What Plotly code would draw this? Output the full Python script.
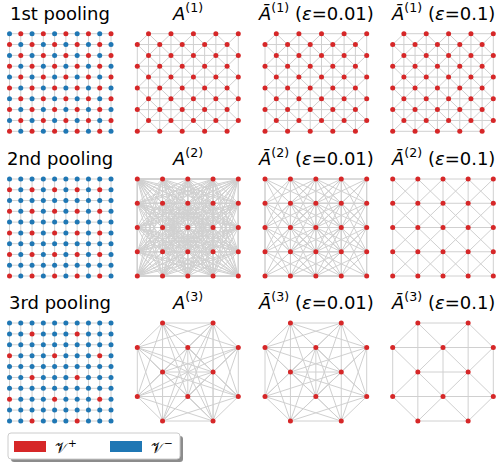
import plotly.graph_objects as go

W, H = 498, 467
RED = "#d62728"
BLUE = "#1f77b4"
EDGE = "#d0d0d0"
FONT = "DejaVu Sans"

# ---- data: node masks of the 10x10 grid after each pooling (R = kept / V+, B = dropped / V-)
POOL1 = [
    "BRBRBRBRBR",
    "RBRBRBRBRB",
    "BRBRBRBRBR",
    "RBRBRBRBRB",
    "BRBRBRBRBR",
    "RBRBRBRBRB",
    "BRBRBRBRBR",
    "RBRBRBRBRB",
    "BRBRBRBRBR",
    "RBRBRBRBRB",
]
POOL2 = [
    "BBBBBBBBBB",
    "RBRBRBRBRB",
    "BBBBBBBBBB",
    "RBRBRBRBRB",
    "BBBBBBBBBB",
    "RBRBRBRBRB",
    "BBBBBBBBBB",
    "RBRBRBRBRB",
    "BBBBBBBBBB",
    "RBRBRBRBRB",
]
POOL3 = [
    "BBBBBBBBBB",
    "BBRBBBRBBB",
    "BBBBBBBBBB",
    "RBBBRBBBRB",
    "BBBBBBBBBB",
    "BBRBBBRBBB",
    "BBBBBBBBBB",
    "RBBBRBBBRB",
    "BBBBBBBBBB",
    "BBRBBBRBBB",
]

# ---- data: connected lattice offsets (row, col) per panel; "all" = complete graph
GRID_EDGES = [(0, 1), (1, 0)]
A1_EDGES = [(1, 1), (1, -1), (0, 2), (2, 0)]
A1_EPS001_EDGES = [(1, 1), (1, -1), (0, 2), (2, 0)]
A1_EPS01_EDGES = [(1, 1), (1, -1), (0, 2), (2, 0)]
A2_EDGES = "all"
A2_EPS001_EDGES = [(0, 1), (1, 0), (1, 1), (1, -1), (1, 2), (1, -2), (2, 1), (2, -1),
                   (0, 2), (2, 0), (2, 2), (2, -2)]
A2_EPS01_EDGES = [(0, 1), (1, 0), (1, 1), (1, -1)]
A3_EDGES = "all"
A3_EPS001_EDGES = [(1, 1), (1, -1), (0, 2), (2, 0), (1, 3), (1, -3), (3, 1), (3, -1),
                   (2, 2), (2, -2)]
A3_EPS01_EDGES = [(1, 1), (1, -1), (0, 2), (2, 0)]

ROW_TITLES = ["1st pooling", "2nd pooling", "3rd pooling"]
COL_TITLES = [
    ["<i>A</i><sup>(1)</sup>", "<i>Ā</i><sup>(1)</sup> (<i>ε</i>=0.01)", "<i>Ā</i><sup>(1)</sup> (<i>ε</i>=0.1)"],
    ["<i>A</i><sup>(2)</sup>", "<i>Ā</i><sup>(2)</sup> (<i>ε</i>=0.01)", "<i>Ā</i><sup>(2)</sup> (<i>ε</i>=0.1)"],
    ["<i>A</i><sup>(3)</sup>", "<i>Ā</i><sup>(3)</sup> (<i>ε</i>=0.01)", "<i>Ā</i><sup>(3)</sup> (<i>ε</i>=0.1)"],
]
LEGEND_LABELS = ["𝒱<sup>+</sup>", "𝒱<sup>−</sup>"]

POOLS = [POOL1, POOL2, POOL3]
PANEL_EDGES = [
    [A1_EDGES, A1_EPS001_EDGES, A1_EPS01_EDGES],
    [A2_EDGES, A2_EPS001_EDGES, A2_EPS01_EDGES],
    [A3_EDGES, A3_EPS001_EDGES, A3_EPS01_EDGES],
]

# ---- layout (pixel extents of node centres)
COLS_PX = [(9.5, 111.0), (137.3, 238.3), (265.0, 366.7), (392.7, 493.3)]
ROWS_PX = [(33.7, 131.3), (179.0, 276.0), (323.0, 421.0)]
TITLE_BASE = [21, 166, 310]
PAD = 4


def norm(o):
    dr, dc = o
    if dr < 0 or (dr == 0 and dc < 0):
        dr, dc = -dr, -dc
    return (dr, dc)


def edge_xy(nodes, offsets):
    xs, ys = [], []
    allowed = None if offsets == "all" else {norm(o) for o in offsets}
    for i in range(len(nodes)):
        for j in range(i + 1, len(nodes)):
            (r1, c1), (r2, c2) = nodes[i], nodes[j]
            if allowed is None or norm((r2 - r1, c2 - c1)) in allowed:
                xs += [c1, c2, None]
                ys += [r1, r2, None]
    return xs, ys


fig = go.Figure()
layout_axes = {}
k = 0
for row in range(3):
    for col in range(4):
        k += 1
        if col == 0:
            mask = POOLS[row]
            nodes = [(r, c) for r in range(10) for c in range(10)]
            colors = [RED if mask[r][c] == "R" else BLUE for r, c in nodes]
            offsets = GRID_EDGES
            n = 9
        else:
            mask = POOLS[row]
            raw = [(r, c) for r in range(10) for c in range(10) if mask[r][c] == "R"]
            if row == 0:
                nodes = raw
                n = 9
            else:
                nodes = [(r // 2, c // 2) for r, c in raw]
                n = 4
            colors = [RED] * len(nodes)
            offsets = PANEL_EDGES[row][col - 1]
        ex, ey = edge_xy(nodes, offsets)
        xa = "x" if k == 1 else f"x{k}"
        ya = "y" if k == 1 else f"y{k}"
        fig.add_trace(go.Scatter(x=ex, y=ey, mode="lines", xaxis=xa, yaxis=ya,
                                 line=dict(color=EDGE, width=1), hoverinfo="skip",
                                 showlegend=False, cliponaxis=False))
        fig.add_trace(go.Scatter(x=[c for r, c in nodes], y=[r for r, c in nodes],
                                 mode="markers", xaxis=xa, yaxis=ya,
                                 marker=dict(color=colors, size=5, line=dict(width=0)),
                                 hoverinfo="skip", showlegend=False, cliponaxis=False))
        x0, x1 = COLS_PX[col]
        y0, y1 = ROWS_PX[row]
        sx = (x1 - x0) / n
        sy = (y1 - y0) / n
        ax = dict(visible=False, showgrid=False, zeroline=False)
        layout_axes["xaxis" if k == 1 else f"xaxis{k}"] = dict(
            ax, domain=[(x0 - PAD) / W, (x1 + PAD) / W], range=[-PAD / sx, n + PAD / sx],
            anchor=ya)
        layout_axes["yaxis" if k == 1 else f"yaxis{k}"] = dict(
            ax, domain=[1 - (y1 + PAD) / H, 1 - (y0 - PAD) / H], range=[n + PAD / sy, -PAD / sy],
            anchor=xa)

annotations = []
for row in range(3):
    texts = [ROW_TITLES[row]] + COL_TITLES[row]
    for col in range(4):
        cx = sum(COLS_PX[col]) / 2
        annotations.append(dict(text=texts[col], x=cx / W, y=1 - (TITLE_BASE[row] + 5) / H,
                                xref="paper", yref="paper", xanchor="center", yanchor="bottom",
                                showarrow=False, font=dict(family=FONT, size=18, color="black")))


def px(x, y):
    return x / W, 1 - y / H


def rounded(x0, y0, x1, y1, r):
    pts = []
    X0, Y0 = px(x0, y0)
    X1, Y1 = px(x1, y1)
    rx, ry = r / W, r / H
    return (f"M {X0+rx},{Y0} L {X1-rx},{Y0} Q {X1},{Y0} {X1},{Y0-ry} "
            f"L {X1},{Y1+ry} Q {X1},{Y1} {X1-rx},{Y1} L {X0+rx},{Y1} "
            f"Q {X0},{Y1} {X0},{Y1+ry} L {X0},{Y0-ry} Q {X0},{Y0} {X0+rx},{Y0} Z")


shapes = []
LB = (8, 433, 180, 459)
shapes.append(dict(type="path", xref="paper", yref="paper",
                   path=rounded(LB[0] + 3, LB[1] + 3, LB[2] + 3, LB[3] + 3, 3),
                   fillcolor="rgba(0,0,0,0.45)", line=dict(width=0), layer="above"))
shapes.append(dict(type="path", xref="paper", yref="paper",
                   path=rounded(*LB, 3),
                   fillcolor="white", line=dict(color="#cccccc", width=1), layer="above"))
for i, (col, xp, xl) in enumerate([(RED, 14, 53), (BLUE, 110, 149)]):
    a0, b0 = px(xp, 441)
    a1, b1 = px(xp + 32, 452)
    shapes.append(dict(type="rect", xref="paper", yref="paper", x0=a0, x1=a1, y0=b1, y1=b0,
                       fillcolor=col, line=dict(width=0), layer="above"))
    lx, ly = px(xl, 446.5)
    annotations.append(dict(text=LEGEND_LABELS[i], x=lx, y=ly, xref="paper", yref="paper",
                            xanchor="left", yanchor="middle", showarrow=False,
                            font=dict(family=FONT, size=15, color="black")))

fig.update_layout(width=W, height=H, margin=dict(l=0, r=0, t=0, b=0),
                  paper_bgcolor="white", plot_bgcolor="rgba(0,0,0,0)",
                  showlegend=False, annotations=annotations, shapes=shapes, **layout_axes)
fig.write_html("out.html")
